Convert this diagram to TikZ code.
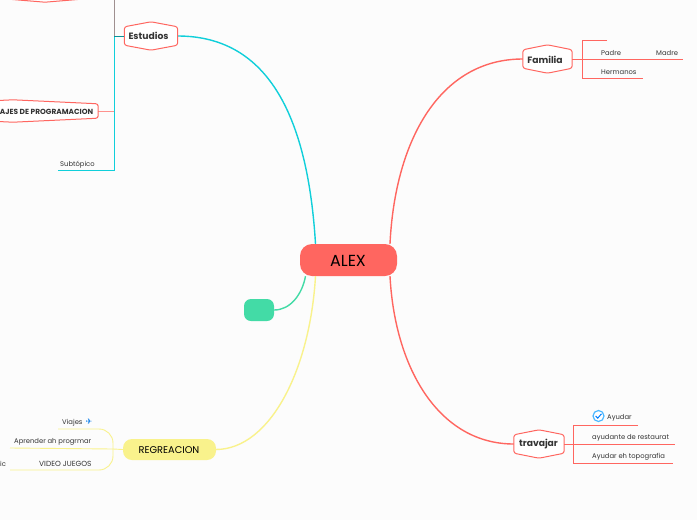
\documentclass[tikz,border=0pt]{standalone}
\usepackage{fontspec}
\setmainfont{Poppins}
\newfontfamily\symfont{DejaVu Sans}
\usetikzlibrary{calc}
\definecolor{coral}{HTML}{FF6660}
\definecolor{aqua}{HTML}{10CFDA}
\definecolor{mint}{HTML}{43DBA6}
\definecolor{lemon}{HTML}{F9F28C}
\definecolor{ink}{HTML}{333333}
\tikzset{
  rootbox/.style={rectangle,fill=coral,rounded corners=12pt,minimum width=97pt,minimum height=32pt,inner sep=0pt,font=\fontsize{16}{16}\selectfont},
  hexbox/.style={rectangle,inner sep=0pt,minimum height=28pt,font=\fontsize{9.2}{10}\selectfont\bfseries,text=ink},
  hexline/.style={draw=coral,line width=1pt,rounded corners=2.5pt,fill=white},
  leaf/.style={inner sep=0pt,anchor=west,yshift=-.8pt,font=\fontsize{6.8}{8}\selectfont,text=ink},
  curve/.style={line width=1.4pt},
  twig/.style={line width=.9pt}
}
\newcommand{\hexoutline}[1]{%
  \draw[hexline] (#1.north) -- ($(#1.north east)+(0,5)$) -- ($(#1.south east)+(0,-5)$) -- (#1.south)
    -- ($(#1.south west)+(0,-5)$) -- ($(#1.north west)+(0,5)$) -- cycle;}
\begin{document}
\begin{tikzpicture}[x=1pt,y=-1pt]
\fill[fill=white!99!black] (0,0) rectangle (697,520);
\useasboundingbox (0,0) rectangle (697,520);
% main topics
\node[rootbox] (alex) at (348.5,260) {};
\node[hexbox,minimum width=53pt] (estudios) at (151,36) {};
\node[hexbox,minimum width=49pt] (familia) at (547.5,59) {};
\node[hexbox,minimum width=50pt] (travajar) at (539,444) {};
\node[rectangle,fill=mint,rounded corners=7pt,minimum width=30pt,minimum height=22pt,inner sep=0pt] (blank) at (259,310) {};
\node[rectangle,fill=lemon,rounded corners=9pt,minimum width=93pt,minimum height=21pt,inner sep=0pt] (regreacion) at (169.5,449.5) {};
% curves from the centre
\draw[aqua,curve] (estudios.east) .. controls (270,36) and (308,120) .. ($(alex.north)+(-33,0)$);
\draw[coral,curve] (familia.west) .. controls (440,59) and (395,140) .. ($(alex.north)+(41.5,0)$);
\draw[coral,curve] (travajar.west) .. controls (440,444) and (395,370) .. ($(alex.south)+(41.5,0)$);
\draw[lemon,curve] (regreacion.east) .. controls (270,449) and (310,370) .. ($(alex.south)+(-33,0)$);
\draw[mint,curve] (blank.east) .. controls (290,310) and (302,295) .. ($(alex.south)+(-43,0)$);
% outlines on top of the curve ends
\hexoutline{estudios}
\hexoutline{familia}
\hexoutline{travajar}
\node[inner sep=0pt,font=\fontsize{16}{16}\selectfont] (alextext) at (348,261) {ALEX};
\node[inner sep=0pt,font=\fontsize{9.8}{10}\selectfont,text=black] (regtext) at (169,450.5) {REGREACION};
\node[hexbox] (estudiostext) at (148.5,36) {Estudios};
\node[hexbox] (familiatext) at (545,59.5) {Familia};
\node[hexbox] (travajartext) at (538.5,444) {travajar};
% Estudios side
\node[hexbox,minimum width=170pt,minimum height=22pt] (lenguajes) at (13,111) {};
\draw[hexline] (lenguajes.north) -- ($(lenguajes.north east)+(0,4)$) -- ($(lenguajes.south east)+(0,-4)$) -- (lenguajes.south)
  -- ($(lenguajes.south west)+(0,-4)$) -- ($(lenguajes.north west)+(0,4)$) -- cycle;
\node[hexbox,minimum height=22pt,anchor=east,font=\fontsize{7.4}{8}\selectfont\bfseries] (lengtext) at (93.5,111.5) {AJES DE PROGRAMACION};
\node[hexbox,minimum width=120pt] (arriba) at (45,-12) {};
\hexoutline{arriba}
\coordinate (stem) at (114,36);
\coordinate (stemtop) at (114,0);
\coordinate (stembot) at (114,170.5);
\coordinate (subend) at (58,170.5);
\draw[aqua,twig] (stemtop) -- (stembot) -- (subend);
\draw[coral,twig,opacity=.6] (stemtop) -- (stem);
\draw[aqua!70!black,twig] (estudios.west) -- (stem);
\draw[coral,twig,opacity=.7] (lenguajes.east) -- (lenguajes.east-|stem);
\node[leaf] (subtopico) at (60,164) {Subtópico};
% Familia side
\coordinate (famfork) at (582,59);
\coordinate (famtop) at (582,40);
\coordinate (fambot) at (582,78);
\coordinate (famtopend) at (607,40);
\coordinate (fammidend) at (683,59);
\coordinate (fambotend) at (643,78);
\draw[coral,twig] (familia.east) -- (fammidend);
\draw[coral,twig] (famtopend) -- (famtop) -- (fambot) -- (fambotend);
\node[leaf] (padre) at (601,52) {Padre};
\node[leaf] (madre) at (656,52) {Madre};
\node[leaf] (hermanos) at (601,71.5) {Hermanos};
% travajar side
\coordinate (trafork) at (573,444);
\coordinate (tratop) at (573,425);
\coordinate (trabot) at (573,463);
\coordinate (tratopend) at (638,425);
\coordinate (tramidend) at (675,444);
\coordinate (trabotend) at (673,463);
\draw[coral,twig] (travajar.east) -- (tramidend);
\draw[coral,twig] (tratopend) -- (tratop) -- (trabot) -- (trabotend);
\node[circle,draw=blue!40!cyan!70!white,fill=white,line width=1.2pt,minimum size=11pt,inner sep=0pt] (check) at (598.5,416) {};
\draw[blue!50!cyan,line width=1pt] ($(check)+(-2.8,0)$) -- ($(check)+(-.8,2.2)$) -- ($(check)+(3,-2.2)$);
\node[leaf] (ayudar) at (607,417) {Ayudar};
\node[leaf] (restaurat) at (592,437) {ayudante de restaurat};
\node[leaf] (topografia) at (592,456) {Ayudar eh topografia};
% REGREACION side
\coordinate (regfork) at (113,449);
\coordinate (regtop) at (58,429);
\coordinate (regmid) at (10,448);
\coordinate (regbot) at (10,470);
\draw[lemon,twig,rounded corners=14pt] (regtop) -- (regfork|-regtop) -- (regfork|-regbot) -- (regbot);
\draw[lemon,twig] (regfork) -- (regmid);
\draw[lemon,twig] (regfork) -- (regreacion.west);
\node[leaf] (viajes) at (62,422) {Viajes};
\node[inner sep=0pt,font=\symfont\fontsize{8}{8}\selectfont,text=aqua!60!blue] (avion) at (89,421.5) {✈};
\node[leaf] (aprender) at (14,441) {Aprender ah progrmar};
\node[leaf] (musica) at (0,463) {ic};
\node[leaf,font=\fontsize{7.4}{8}\selectfont] (videojuegos) at (39,463) {VIDEO JUEGOS};
\end{tikzpicture}
\end{document}
